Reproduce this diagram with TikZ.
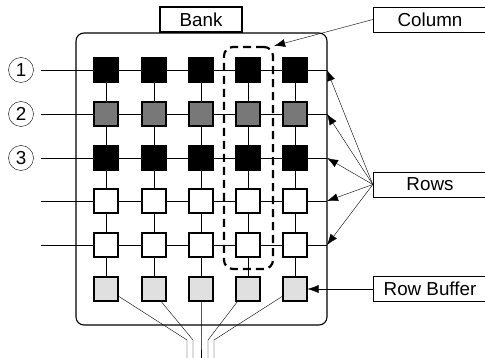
\documentclass[tikz,border=0pt]{standalone}
\usepackage{fontspec}
\setmainfont{Liberation Sans}
\usetikzlibrary{arrows.meta}

\pgfdeclarelayer{background}
\pgfsetlayers{background,main}

\tikzset{
    cell/.style={draw, minimum size=24pt, inner sep=0pt},
    tag/.style={draw, fill=white, minimum height=25pt, inner sep=0pt, font=\fontsize{18.8}{22}\selectfont},
    rownum/.style={draw, circle, minimum size=25pt, inner sep=0pt, font=\fontsize{18.8}{22}\selectfont},
    pointer/.style={-{Latex[length=11pt, width=8pt]}},
}

\begin{document}
\begin{tikzpicture}[x=1pt, y=-1pt, line width=1.1pt]
    \useasboundingbox (0,0) rectangle (485,358);

    % draw bank outline
    \node[draw, rounded corners=8pt, minimum width=251pt, minimum height=292pt, inner sep=0pt] (bank) at (201.5,179) {};
    \node[tag, minimum width=82pt] (banklabel) at (201,19.5) {Bank};

    % draw cells
    \foreach \r/\y/\f in {1/70/black, 2/114/black!53, 3/158/black, 4/201/white, 5/245/white, 6/289/black!12} {
        \foreach \c/\x in {1/106, 2/154, 3/201, 4/248, 5/295} {
            \node[cell, fill=\f] (c-\r-\c) at (\x,\y) {};
        }
    }

    % draw row and column lines
    \begin{pgfonlayer}{background}
        \foreach \r/\y in {1/70, 2/114, 3/158, 4/201, 5/245} {
            \coordinate (rowL-\r) at (41,\y);
            \coordinate (rowR-\r) at (327,\y);
            \draw (rowL-\r) -- (rowR-\r);
        }
        \foreach \c in {1,...,5} {
            \draw (c-1-\c) -- (c-6-\c);
        }
    \end{pgfonlayer}

    % draw row numbers
    \foreach \r/\y in {1/70, 2/114, 3/158} {
        \node[rownum] (num-\r) at (21,\y) {\r};
    }

    % draw selected column
    \node[draw, dash pattern=on 8pt off 5pt, line width=2.2pt, rounded corners=9pt, minimum width=49pt, minimum height=222pt, inner sep=0pt] (colsel) at (248.5,158) {};

    % draw buffer outputs
    \foreach \c/\a/\x in {1/330/187, 2/300/193, 3/270/201, 4/230/208, 5/210/214} {
        \coordinate (kink-\c) at (\x,340);
        \coordinate (bus-\c) at (\x,360);
        \draw (c-6-\c.\a) -- (kink-\c) -- (bus-\c);
    }

    % draw labels and arrows
    \node[tag, minimum width=114pt] (collabel) at (430,19.5) {Column};
    \node[tag, minimum width=114pt] (rowslabel) at (430,184.5) {Rows};
    \node[tag, minimum width=114pt] (buflabel) at (430,289) {Row Buffer};

    \draw[pointer] (collabel.west) -- (colsel.north east);
    \foreach \r in {1,...,5} {
        \draw[pointer] (rowslabel.west) -- (rowR-\r);
    }
    \draw[pointer] (buflabel.west) -- (c-6-5.east);
\end{tikzpicture}
\end{document}
